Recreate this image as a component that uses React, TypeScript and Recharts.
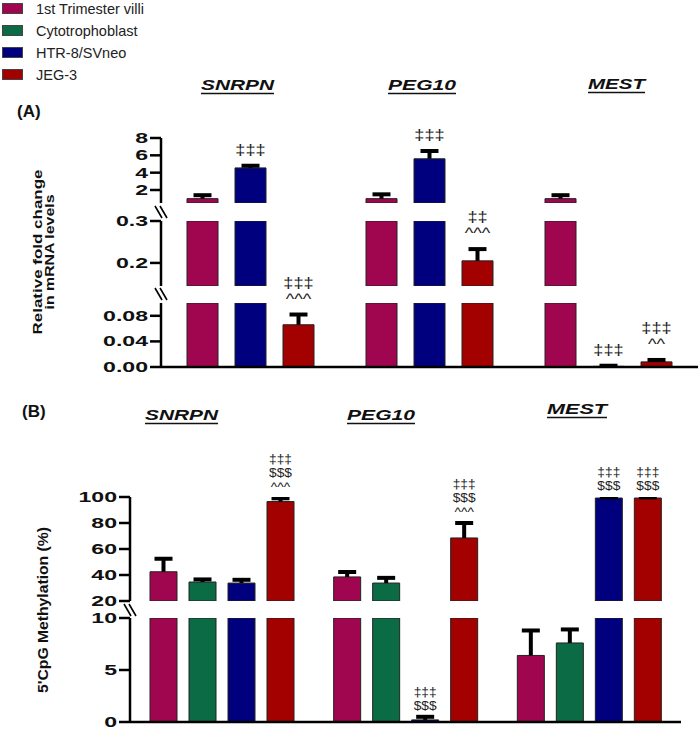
import React from 'react';
import { BarChart, Bar, XAxis, YAxis, LabelList } from 'recharts';

const FONT = '"Liberation Sans", Arial, Helvetica, sans-serif';

const genes = ['SNRPN', 'PEG10', 'MEST'];
const cellLines = ['1st Trimester villi', 'Cytotrophoblast', 'HTR-8/SVneo', 'JEG-3'];
const cellColors = ['#a0064f', '#0a6b45', '#00007f', '#a30000'];

// (A) relative fold change in mRNA levels
const mrnaVilli = [1.0, 1.0, 1.0];
const mrnaVilliErr = [0.4, 0.5, 0.4];
const mrnaHtr = [4.55, 5.6, 0.001];
const mrnaHtrErr = [0.25, 0.9, 0.001];
const mrnaJeg = [0.066, 0.205, 0.008];
const mrnaJegErr = [0.016, 0.028, 0.003];
const mrnaHtrNotes = ['‡‡‡', '‡‡‡', '‡‡‡'];
const mrnaJegNotes = ['‡‡‡|^^^', '‡‡|^^^', '‡‡‡|^^'];

// (B) 5'CpG methylation (%)
const methVilli = [42.5, 38.5, 6.4];
const methVilliErr = [10, 3.8, 2.4];
const methCyto = [34.6, 33.8, 7.6];
const methCytoErr = [2, 4, 1.3];
const methHtr = [33.8, 0.2, 99.2];
const methHtrErr = [2.5, 0.3, 0.5];
const methJeg = [96.5, 68.5, 99.2];
const methJegErr = [2.5, 11.5, 0.5];
const methHtrNotes = ['', '‡‡‡|$$$', '‡‡‡|$$$'];
const methJegNotes = ['‡‡‡|$$$|^^^', '‡‡‡|$$$|^^^', '‡‡‡|$$$'];
const noNotes = ['', '', ''];

type Series = { key: string; color: string; values: number[]; errors: number[]; notes: string[] };

const panelA: Series[] = [
  { key: 'villi', color: cellColors[0], values: mrnaVilli, errors: mrnaVilliErr, notes: noNotes },
  { key: 'htr', color: cellColors[2], values: mrnaHtr, errors: mrnaHtrErr, notes: mrnaHtrNotes },
  { key: 'jeg', color: cellColors[3], values: mrnaJeg, errors: mrnaJegErr, notes: mrnaJegNotes },
];

const panelB: Series[] = [
  { key: 'villi', color: cellColors[0], values: methVilli, errors: methVilliErr, notes: noNotes },
  { key: 'cyto', color: cellColors[1], values: methCyto, errors: methCytoErr, notes: noNotes },
  { key: 'htr', color: cellColors[2], values: methHtr, errors: methHtrErr, notes: methHtrNotes },
  { key: 'jeg', color: cellColors[3], values: methJeg, errors: methJegErr, notes: methJegNotes },
];

// rows for one piece of a broken axis: bars are cut at the top of the piece,
// error bar + notes only where the bar ends inside it
function buildRows(series: Series[], lo: number, hi: number) {
  return genes.map((g, i) => {
    const row: any = { gene: g };
    series.forEach((s) => {
      const v = s.values[i];
      const endsHere = v >= lo && v <= hi;
      row[s.key] = v >= lo ? Math.min(v, hi) : null;
      row[s.key + 'Err'] = endsHere ? s.errors[i] : null;
      row[s.key + 'Ann'] = endsHere ? s.notes[i] : '';
    });
    return row;
  });
}

const axisStyle = { stroke: '#000', strokeWidth: 2.5 };

const TickLabel = (p: any) => (
  <text
    transform={`translate(${p.x},${p.y}) scale(1.65,1)`}
    textAnchor="end"
    dy="0.36em"
    fontSize={14}
    fontWeight="bold"
    fontFamily={FONT}
    fill="#111"
  >
    {p.fmt(p.payload.value)}
  </text>
);

const errShape = (key: string) => (p: any) => {
  if (p.payload == null || p.payload[key + 'Err'] == null) return <g />;
  const cx = p.x + p.width / 2;
  return (
    <g>
      <line x1={cx} x2={cx} y1={p.y} y2={p.y + p.height} stroke="#000" strokeWidth={4} />
      <line x1={cx - 9} x2={cx + 9} y1={p.y} y2={p.y} stroke="#000" strokeWidth={4} />
    </g>
  );
};

type NoteStyle = { size: number; sx: number; gap: number; off: number };

const noteContent = (ns: NoteStyle) => (p: any) => {
  const vb = p.viewBox || {};
  const x = p.x ?? vb.x;
  const y = p.y ?? vb.y;
  const w = p.width ?? vb.width;
  if (!p.value) return null;
  const lines = String(p.value).split('|');
  const cx = x + w / 2;
  return (
    <g>
      {lines.map((t, i) => (
        <text
          key={i}
          transform={`translate(${cx},${y - ns.off - (lines.length - 1 - i) * ns.gap}) scale(${ns.sx},1)`}
          textAnchor="middle"
          fontSize={ns.size}
          fontFamily={FONT}
          fill="#222"
        >
          {t}
        </text>
      ))}
    </g>
  );
};

type SegProps = {
  series: Series[];
  domain: [number, number];
  ticks: number[];
  fmt: (v: number) => string;
  plotTop: number;
  plotH: number;
  left: number;
  right: number;
  barSize: number;
  barGap: number;
  showX: boolean;
  note: NoteStyle;
};

function Segment({ series, domain, ticks, fmt, plotTop, plotH, left, right, barSize, barGap, showX, note }: SegProps) {
  const MT = 50;
  const MB = showX ? 3 : 10;
  const XH = showX ? 9 : 0;
  const height = MT + plotH + XH + MB;
  const rows = buildRows(series, domain[0], domain[1]);
  return (
    <div style={{ position: 'absolute', left: 0, top: plotTop - MT, width: 700, height }}>
      <BarChart
        width={700}
        height={height}
        data={rows}
        margin={{ top: MT, right, bottom: MB, left: 0 }}
        barSize={barSize}
        barGap={barGap}
      >
        <XAxis
          dataKey="gene"
          hide={!showX}
          height={XH}
          tick={false}
          tickSize={7}
          axisLine={axisStyle}
          tickLine={axisStyle}
        />
        <YAxis
          type="number"
          domain={domain}
          ticks={ticks}
          interval={0}
          allowDataOverflow
          width={left}
          tickSize={11}
          tickMargin={2}
          axisLine={axisStyle}
          tickLine={axisStyle}
          tick={(p: any) => <TickLabel {...p} fmt={fmt} />}
        />
        {series.map((s) => (
          <Bar
            key={s.key}
            dataKey={s.key}
            stackId={s.key}
            fill={s.color}
            stroke="#222"
            strokeWidth={1}
            isAnimationActive={false}
          />
        ))}
        {series.map((s) => (
          <Bar
            key={s.key + 'Err'}
            dataKey={s.key + 'Err'}
            stackId={s.key}
            fill="none"
            shape={errShape(s.key)}
            isAnimationActive={false}
          >
            <LabelList dataKey={s.key + 'Ann'} content={noteContent(note)} />
          </Bar>
        ))}
      </BarChart>
    </div>
  );
}

const noteA: NoteStyle = { size: 14, sx: 1.3, gap: 16, off: 11 };
const noteB: NoteStyle = { size: 12.5, sx: 1.1, gap: 14, off: 7 };

const BreakMark = ({ x, y }: { x: number; y: number }) => (
  <g stroke="#000" strokeWidth={1.6}>
    <line x1={x - 6} y1={y - 6} x2={x + 1} y2={y + 6} />
    <line x1={x - 1} y1={y - 6} x2={x + 6} y2={y + 6} />
  </g>
);

const Title = ({ text, x, w, y }: { text: string; x: number; w: number; y: number }) => (
  <g>
    <text
      x={x}
      y={y}
      textLength={w}
      lengthAdjust="spacingAndGlyphs"
      fontSize={15}
      fontWeight="bold"
      fontStyle="italic"
      fontFamily={FONT}
      fill="#111"
    >
      {text}
    </text>
    <line x1={x} x2={x + w} y1={y + 3.5} y2={y + 3.5} stroke="#111" strokeWidth={1.3} />
  </g>
);

export default function App() {
  return (
    <div style={{ position: 'absolute', left: 0, top: 0, width: 700, height: 731, background: '#fff', overflow: 'hidden' }}>
      {/* (A) mRNA, three axis pieces */}
      <Segment series={panelA} domain={[0.5, 8]} ticks={[2, 4, 6, 8]} fmt={(v) => String(v)}
        plotTop={138} plotH={65} left={161} right={2} barSize={31} barGap={17} showX={false} note={noteA} />
      <Segment series={panelA} domain={[0.145, 0.3]} ticks={[0.2, 0.3]} fmt={(v) => String(v)}
        plotTop={221} plotH={65} left={161} right={2} barSize={31} barGap={17} showX={false} note={noteA} />
      <Segment series={panelA} domain={[0, 0.1]} ticks={[0, 0.04, 0.08]} fmt={(v) => v.toFixed(2)}
        plotTop={303} plotH={64} left={161} right={2} barSize={31} barGap={17} showX={true} note={noteA} />

      {/* (B) methylation, two axis pieces */}
      <Segment series={panelB} domain={[20, 100]} ticks={[20, 40, 60, 80, 100]} fmt={(v) => String(v)}
        plotTop={497} plotH={104} left={130} right={19} barSize={27} barGap={12} showX={false} note={noteB} />
      <Segment series={panelB} domain={[0, 10]} ticks={[0, 5, 10]} fmt={(v) => String(v)}
        plotTop={618} plotH={104} left={130} right={19} barSize={27} barGap={12} showX={true} note={noteB} />

      <svg width={700} height={731} style={{ position: 'absolute', left: 0, top: 0, pointerEvents: 'none' }}>
        {cellLines.map((name, i) => (
          <g key={name}>
            <rect x={2.5} y={3.5 + i * 22} width={20} height={10} fill={cellColors[i]} stroke="#444" strokeWidth={1} />
            <text x={36} y={13.5 + i * 22} fontSize={14.5} fontFamily={FONT} fill="#222">{name}</text>
          </g>
        ))}

        <text x={17} y={117} fontSize={17} fontWeight="bold" fontFamily={FONT} fill="#111">(A)</text>
        <text x={22} y={417} fontSize={17} fontWeight="bold" fontFamily={FONT} fill="#111">(B)</text>

        <Title text="SNRPN" x={201} w={73} y={90} />
        <Title text="PEG10" x={388} w={68} y={90} />
        <Title text="MEST" x={588} w={57} y={89} />
        <Title text="SNRPN" x={145} w={73} y={420} />
        <Title text="PEG10" x={347} w={68} y={420} />
        <Title text="MEST" x={547} w={60} y={414} />

        <g fontFamily={FONT} fontWeight="bold" fontSize={13} fill="#111" textAnchor="middle">
          <text transform="translate(42,252) rotate(-90)" textLength={165} lengthAdjust="spacingAndGlyphs">
            Relative fold change
          </text>
          <text transform="translate(54,252) rotate(-90)" textLength={115} lengthAdjust="spacingAndGlyphs">
            in mRNA levels
          </text>
          <text transform="translate(48,610) rotate(-90)" fontSize={14} textLength={166} lengthAdjust="spacingAndGlyphs">
            5'CpG Methylation (%)
          </text>
        </g>

        <BreakMark x={161} y={212} />
        <BreakMark x={161} y={294} />
        <BreakMark x={130} y={610} />
      </svg>
    </div>
  );
}
